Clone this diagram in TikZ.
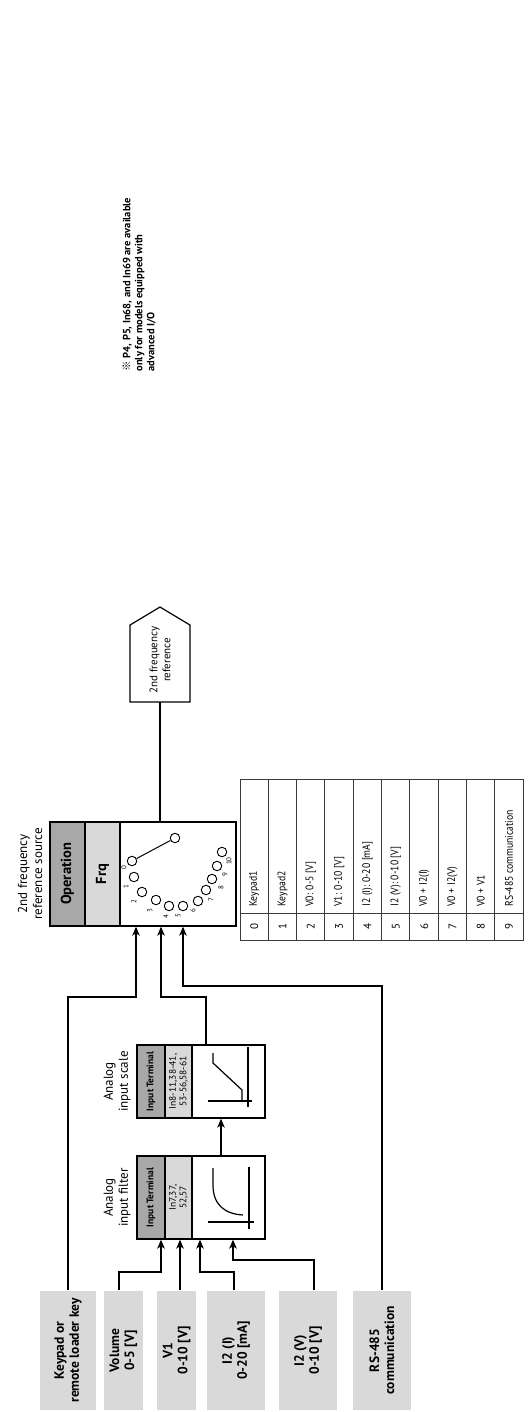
\documentclass[tikz,border=0pt]{standalone}
\usepackage{fontspec}
\setmainfont{PT Sans}
\newfontfamily\cjkfont{Noto Sans CJK JP}
\usetikzlibrary{arrows.meta}
\definecolor{dgray}{HTML}{A8A8A8}
\definecolor{lgray}{HTML}{D9D9D9}
\definecolor{tline}{HTML}{3A3A3A}
\newcommand{\fsz}[2]{\fontsize{#1}{#2}\selectfont}
\newcommand{\cn}[1]{\scalebox{0.88}[1]{#1}}
\begin{document}
\begin{tikzpicture}[x=1pt,y=-1pt,line width=1.2pt,
  src/.style={fill=lgray,draw=none,inner sep=0pt},
  srct/.style={rotate=90,align=center,inner sep=0pt,font=\bfseries\fsz{13.5}{15}},
  dk/.style={fill=dgray,draw=black,line width=1.3pt,inner sep=0pt},
  lt/.style={fill=lgray,draw=black,line width=1.3pt,inner sep=0pt},
  wh/.style={fill=white,draw=black,line width=1.3pt,inner sep=0pt},
  lbl/.style={rotate=90,align=center,inner sep=0pt,font=\fsz{13}{15}},
  arr/.style={-{Stealth[length=9pt,width=7.5pt,inset=2.5pt]},line width=1.2pt},
  sw/.style={circle,draw=black,line width=0.9pt,minimum size=9.5pt,inner sep=0pt,fill=white},
  swn/.style={rotate=90,inner sep=0pt,font=\fsz{7}{7}},
  cell/.style={rotate=90,inner sep=0pt,anchor=west,font=\fsz{11}{12}},
  idx/.style={rotate=90,inner sep=0pt,font=\fsz{11}{12}},
  tagdk/.style={rotate=90,inner sep=0pt,font=\bfseries\fsz{9.5}{10}},
  taglt/.style={rotate=90,align=center,inner sep=0pt,font=\fsz{9.5}{10.5}},
]
\useasboundingbox (0,0) rectangle (530,1412);

% ---------- source boxes ----------
\node[src,minimum width=56pt,minimum height=119pt] (kp) at (68,1350.5) {};
\node[srct] at (kp) {Keypad or\\remote loader key};
\node[src,minimum width=39pt,minimum height=119pt] (vol) at (123.5,1350.5) {};
\node[srct] at (vol) {Volume\\0-5 [V]};
\node[src,minimum width=39pt,minimum height=119pt] (v1) at (176.5,1350.5) {};
\node[srct] at (v1) {V1\\0-10 [V]};
\node[src,minimum width=58pt,minimum height=119pt] (i2i) at (236,1350.5) {};
\node[srct] at (i2i) {I2 (I)\\0-20 [mA]};
\node[src,minimum width=58pt,minimum height=119pt] (i2v) at (308,1350.5) {};
\node[srct] at (i2v) {I2 (V)\\0-10 [V]};
\node[src,minimum width=58pt,minimum height=119pt] (rs) at (382,1350.5) {};
\node[srct] at (rs) {RS-485\\communication};

% ---------- analog input filter ----------
\node[dk,minimum width=28pt,minimum height=83pt] (fdk) at (151,1197.5) {};
\node[lt,minimum width=27pt,minimum height=83pt] (flt) at (178.5,1197.5) {};
\node[wh,minimum width=73pt,minimum height=83pt] (fwh) at (228.5,1197.5) {};
\node[tagdk] at (fdk) {Input Terminal};
\node[taglt] at (flt) {In7,37,\\52,57};
\draw (249,1167) -- (249,1229);
\draw (208,1222) -- (254,1222);
\draw (213,1168) -- (213,1185) .. controls (213,1205) and (225,1214) .. (243,1215);
\node[lbl] at (117,1197.5) {Analog\\input filter};

% ---------- analog input scale ----------
\node[dk,minimum width=28pt,minimum height=73pt] (sdk) at (151,1081.5) {};
\node[lt,minimum width=27pt,minimum height=73pt] (slt) at (178.5,1081.5) {};
\node[wh,minimum width=73pt,minimum height=73pt] (swh) at (228.5,1081.5) {};
\node[tagdk] at (sdk) {Input Terminal};
\node[taglt] at (slt) {In8-11,38-41,\\53-56,58-61};
\draw (248,1047) -- (248,1107);
\draw (208,1101) -- (252,1101);
\draw (213,1053) -- (213,1063) -- (242,1090) -- (242,1101);
\node[lbl] at (117,1081.5) {Analog\\input scale};

% ---------- operation selector ----------
\node[dk,minimum width=35pt,minimum height=104pt] (odk) at (67.5,874) {};
\node[lt,minimum width=35pt,minimum height=104pt] (olt) at (102.5,874) {};
\node[wh,minimum width=116pt,minimum height=104pt] (owh) at (178,874) {};
\node[rotate=90,inner sep=0pt,font=\bfseries\fsz{14.5}{15}] at (odk) {Operation};
\node[rotate=90,inner sep=0pt,font=\bfseries\fsz{14.5}{15}] at (olt) {Frq};
\node[lbl] at (30,874) {2nd frequency\\reference source};

\node[sw] (c0) at (132,861) {};
\node[sw] (c1) at (134,877) {};
\node[sw] (c2) at (142,892) {};
\node[sw] (c3) at (156,900) {};
\node[sw] (c4) at (169,906) {};
\node[sw] (c5) at (183,906) {};
\node[sw] (c6) at (198,901) {};
\node[sw] (c7) at (206,890) {};
\node[sw] (c8) at (212,879) {};
\node[sw] (c9) at (217,866) {};
\node[sw] (c10) at (222,852) {};
\node[sw] (piv) at (175,838) {};
\draw[line width=1pt] (c0) -- (piv);
\node[swn] at (124,868) {0};
\node[swn] at (126,887) {1};
\node[swn] at (134,902) {2};
\node[swn] at (150,911) {3};
\node[swn] at (166,917) {4};
\node[swn] at (178,916) {5};
\node[swn] at (193,911) {6};
\node[swn] at (211,900) {7};
\node[swn] at (221,888) {8};
\node[swn] at (225,875) {9};
\node[swn] at (229,861) {10};

% ---------- output ----------
\draw[line width=1.2pt] (130,702) -- (130,625) -- (160,607) -- (190,625) -- (190,702) -- cycle;
\coordinate (outbase) at (160,702);
\node[rotate=90,align=center,inner sep=0pt,font=\fsz{11}{13}] (outtxt) at (160,660) {2nd frequency\\reference};
\draw ([xshift=-18pt]owh.north) -- (outbase);

% ---------- table ----------
\begin{scope}[draw=tline,line width=1pt]
\foreach \i/\t in {0/Keypad1,1/Keypad2,2/{V0: 0-5 [V]},3/{V1: 0-10 [V]},4/{I2 (I): 0-20 [mA]},5/{I2 (V): 0-10 [V]},6/{V0 + I2(I)},7/{V0 + I2(V)},8/{V0 + V1},9/{RS-485 communication}}{
  \pgfmathsetmacro{\xa}{240+28.33*\i}
  \pgfmathsetmacro{\xb}{240+28.33*(\i+1)}
  \pgfmathsetmacro{\xc}{240+28.33*(\i+0.5)}
  \draw (\xa,779) rectangle (\xb,940);
  \draw (\xa,913) -- (\xb,913);
  \node[cell] at (\xc,907) {\cn{\t}};
  \node[idx] at (\xc,926.5) {\i};
}
\end{scope}

% ---------- note ----------
\node[rotate=90,anchor=north west,align=left,inner sep=0pt,font=\bfseries\fsz{10.5}{12}] (note) at (122,372)
  {{\cjkfont ※} P4, P5, In68, and In69 are available\\only for models equipped with\\advanced I/O};

% ---------- connectors ----------
\coordinate (yk) at (0,997);
\coordinate (yr) at (0,986);
\coordinate (yv) at (0,1272);
\coordinate (yw) at (0,1260);
\draw[arr] (kp.north) -- (kp.north |- yk) -| ([xshift=-42pt]owh.south);
\draw[arr] ([xshift=-22.5pt]swh.north) -- ([xshift=-22.5pt]swh.north |- yk) -| ([xshift=-17pt]owh.south);
\draw[arr] (rs.north) -- (rs.north |- yr) -| ([xshift=5pt]owh.south);
\draw[arr] ([xshift=-4.5pt]vol.north) -- ([xshift=-4.5pt]vol.north |- yv) -| ([xshift=-67.5pt]fwh.south);
\draw[arr] ([xshift=3.5pt]v1.north) -- ([xshift=-48.5pt]fwh.south);
\draw[arr] ([xshift=-2pt]i2i.north) -- ([xshift=-2pt]i2i.north |- yv) -| ([xshift=-28.5pt]fwh.south);
\draw[arr] ([xshift=6pt]i2v.north) -- ([xshift=6pt]i2v.north |- yw) -| ([xshift=4.5pt]fwh.south);
\draw[arr] ([xshift=-7.5pt]fwh.north) -- ([xshift=-7.5pt]swh.south);
\end{tikzpicture}
\end{document}
